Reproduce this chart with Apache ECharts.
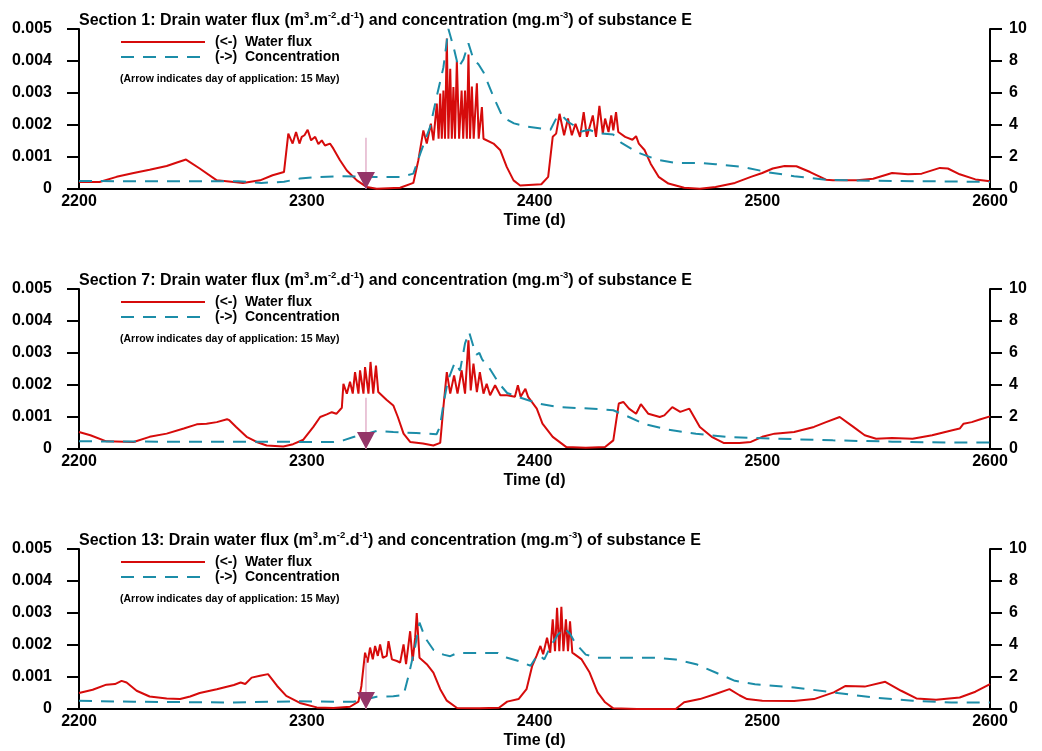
<!DOCTYPE html>
<html>
<head>
<meta charset="utf-8">
<script src="https://cdn.jsdelivr.net/npm/echarts@6/dist/echarts.min.js"></script>
<style>
  html, body { margin: 0; padding: 0; background: #fff; }
  #main { width: 1042px; height: 751px; }
</style>
</head>
<body>
<div id="main"></div>
<script>
// Drain outflow for three field sections: water flux (left axis, m3/m2/d)
// and substance E concentration (right axis, mg/m3), days 2200-2600.

const sectionNames = ['Section 1', 'Section 7', 'Section 13'];
const applicationDay = 2326;      // 15 May
const arrowTop = 0.0016;          // top of the application marker stem

const flux1 = [
  [2200,0.00022],[2209,0.00022],[2216.5,0.00038],[2224,0.0005],[2231,0.0006],[2238.5,0.00072],
  [2243,0.00083],[2247,0.00092],[2253,0.00064],[2260.5,0.00027],[2268,0.00022],[2272,0.00019],
  [2279.5,0.00027],[2285,0.00043],[2290,0.00053],[2291.9,0.00173],[2292.6,0.00178],[2293.8,0.00142],
  [2295.3,0.00178],[2296.8,0.00142],[2297.8,0.00163],[2299,0.00168],[2300.4,0.00185],[2301.9,0.00152],
  [2303.7,0.00163],[2305.1,0.0014],[2306.6,0.00152],[2308,0.00136],[2310.2,0.00142],[2311.7,0.00126],
  [2314.6,0.0009],[2317.6,0.00058],[2322,0.00027],[2326.4,0.00006],[2330.7,0.00001],[2341,0.00004],
  [2346.8,0.00019],[2349,0.0009],[2351.2,0.00183],[2352.7,0.00142],[2354.5,0.00204],[2355.6,0.00152],
  [2356.4,0.00157],[2357.1,0.00267],[2357.9,0.00157],[2358.6,0.00298],[2359.3,0.00157],[2360,0.00308],
  [2360.7,0.00157],[2361.5,0.0047],[2362.2,0.00157],[2363,0.00376],[2363.7,0.00157],[2364.4,0.00319],
  [2365.1,0.00157],[2365.9,0.004],[2366.9,0.00157],[2368,0.00308],[2368.7,0.00157],[2369.5,0.00308],
  [2370.3,0.00157],[2371,0.0042],[2371.7,0.00157],[2372.5,0.0032],[2373.3,0.00157],[2374.7,0.0033],
  [2375.5,0.00157],[2376.9,0.00256],[2377.6,0.00157],[2382,0.00142],[2385,0.00121],[2387.8,0.00069],
  [2390.8,0.00027],[2393.7,0.00011],[2403,0.00015],[2406,0.00038],[2408,0.00163],[2409.5,0.00173],
  [2411,0.00235],[2413,0.00168],[2414.7,0.0022],[2416.4,0.00168],[2418,0.00204],[2420,0.00163],
  [2421.6,0.0024],[2423,0.00163],[2425.6,0.0023],[2427,0.00163],[2428.5,0.0026],[2430,0.00173],
  [2431,0.0022],[2432.5,0.00178],[2433.7,0.0023],[2434.6,0.00183],[2435.8,0.0024],[2436.8,0.00178],
  [2439.8,0.00163],[2443,0.00154],[2444.6,0.00165],[2445.8,0.00142],[2448.4,0.00121],[2451,0.00079],
  [2454.5,0.00038],[2458.8,0.00017],[2465.7,0.00004],[2472.6,0.00001],[2479.5,0.00006],[2488,0.00019],
  [2495,0.00038],[2500,0.0005],[2504.6,0.00064],[2509.8,0.00072],[2515,0.00071],[2521,0.00053],
  [2528,0.00029],[2531,0.00027],[2541.7,0.00027],[2548.7,0.00032],[2557,0.0005],[2564,0.00046],
  [2570,0.00048],[2578,0.00066],[2581.5,0.00064],[2586.7,0.00046],[2593.6,0.0003],[2600,0.00024]
];

const conc1 = [
  [2200,0.5],[2230,0.48],[2270,0.48],[2280,0.38],[2290,0.45],[2297,0.65],[2305,0.75],[2315,0.8],
  [2330,0.75],[2341,0.75],[2346.8,0.96],[2349.8,2.2],[2354.2,3.9],[2357.1,5.8],[2360,7.6],[2362.2,10.0],
  [2364.4,8.9],[2366.6,7.6],[2368.8,8.1],[2371,9.1],[2373.2,8.1],[2375.4,7.8],[2377.6,7.3],[2382,5.76],
  [2386,4.5],[2391,4.1],[2396.5,3.9],[2407,3.7],[2409.5,4.4],[2412,4.6],[2414.7,4.2],[2417,4.0],
  [2420.7,3.6],[2424,3.7],[2427.7,3.5],[2434.6,3.4],[2438,2.9],[2445,2.3],[2453.6,1.84],[2462,1.63],
  [2472.6,1.63],[2479.5,1.55],[2491.6,1.38],[2502,1.06],[2514,0.8],[2528,0.58],[2540,0.54],[2557,0.5],
  [2574.6,0.48],[2600,0.44]
];

const flux2 = [
  [2200,0.00053],[2205,0.00043],[2212,0.00024],[2224,0.00022],[2231,0.00038],[2238.5,0.00048],
  [2246,0.00064],[2251.7,0.00077],[2256,0.00079],[2260.5,0.00084],[2265,0.00093],[2266,0.0009],
  [2269,0.00069],[2273.6,0.00038],[2278,0.00022],[2282.4,0.00011],[2289.7,0.00008],[2294,0.00015],
  [2298.5,0.00029],[2302.9,0.00069],[2305.9,0.001],[2308.8,0.00108],[2311,0.00115],[2313,0.0011],
  [2315.4,0.00129],[2316.1,0.00204],[2317.6,0.00173],[2319,0.0021],[2320.2,0.00173],[2321.2,0.0024],
  [2322.7,0.00173],[2323.4,0.00246],[2324.9,0.00173],[2325.6,0.00256],[2327.1,0.00173],[2328,0.00272],
  [2329.2,0.00173],[2330.4,0.00261],[2331.4,0.00178],[2335,0.00154],[2338,0.00136],[2340,0.001],
  [2342.5,0.00048],[2345.4,0.00022],[2351,0.00017],[2355.6,0.00011],[2358.6,0.00019],[2360,0.00131],
  [2361.5,0.0024],[2363,0.00173],[2364.7,0.0023],[2366.2,0.00173],[2368,0.00246],[2369.5,0.00173],
  [2371,0.0034],[2372,0.00183],[2373.2,0.00267],[2374.7,0.00178],[2376,0.0024],[2377.6,0.00173],
  [2379,0.00204],[2380.5,0.00168],[2382.7,0.00199],[2385,0.00168],[2388,0.00168],[2391.4,0.00163],
  [2392.7,0.00199],[2393.9,0.00163],[2396,0.00188],[2397.2,0.00163],[2401,0.00126],[2403.5,0.00079],
  [2408,0.00038],[2414,0.00006],[2422.5,0.00004],[2431,0.00006],[2434.6,0.00027],[2437,0.00142],
  [2439,0.00147],[2441.5,0.00126],[2444.6,0.0011],[2446.7,0.0014],[2450,0.0011],[2455,0.001],
  [2457,0.00105],[2460.5,0.00131],[2464,0.00116],[2468,0.00126],[2472.6,0.00069],[2477.8,0.00038],
  [2483,0.00019],[2490,0.00019],[2495,0.00022],[2500,0.00038],[2505.4,0.00048],[2514,0.00053],
  [2522.7,0.00069],[2528,0.00084],[2534,0.001],[2540,0.00069],[2545,0.00043],[2550,0.00032],
  [2557,0.00034],[2566,0.00032],[2574.6,0.00043],[2583,0.00058],[2586.7,0.00064],[2588.4,0.00079],
  [2592,0.00084],[2595.5,0.00092],[2600,0.00102]
];

const conc2 = [
  [2200,0.48],[2250,0.45],[2280,0.45],[2311.7,0.44],[2316,0.54],[2320.5,0.75],[2326.4,0.96],
  [2330.7,1.13],[2338,1.06],[2348,1.0],[2357,0.92],[2358.5,1.4],[2360,2.8],[2362,4.3],[2365,5.4],
  [2367.3,4.9],[2369.5,6.6],[2371.3,7.3],[2373.2,6.4],[2374.5,5.9],[2375.8,6.0],[2377,5.6],[2380,5.1],
  [2384.4,4.1],[2388,3.5],[2393,3.25],[2401.7,2.84],[2410,2.63],[2419,2.56],[2427.7,2.5],[2434.6,2.42],
  [2441.5,2.0],[2448.4,1.55],[2458.8,1.2],[2470.9,0.96],[2484.7,0.75],[2505.4,0.65],[2531,0.54],
  [2557,0.46],[2583,0.4],[2600,0.4]
];

const flux3 = [
  [2200,0.0005],[2206,0.0006],[2212,0.00076],[2215.8,0.00078],[2218.7,0.00088],[2220.9,0.00083],
  [2225.3,0.00057],[2231,0.00039],[2238.5,0.00033],[2244.4,0.00031],[2248.8,0.00039],[2253,0.0005],
  [2260.5,0.00062],[2268,0.00075],[2271,0.00083],[2273,0.00078],[2275.8,0.00098],[2279.5,0.00104],
  [2283,0.00109],[2287,0.00072],[2291,0.00041],[2297,0.00019],[2304.4,0.00005],[2311.7,0.00003],
  [2319,0.00007],[2322.7,0.00023],[2324,0.00072],[2325.6,0.00176],[2326.7,0.00145],[2327.8,0.00192],
  [2329,0.00155],[2330,0.00197],[2331.2,0.00166],[2332.2,0.00202],[2333.4,0.0016],[2335.1,0.00166],
  [2335.9,0.00212],[2337.4,0.00155],[2339.6,0.0015],[2341,0.00145],[2342.5,0.00202],[2343.6,0.0014],
  [2345.4,0.00243],[2346.5,0.0015],[2347.6,0.00223],[2348.3,0.003],[2349.5,0.0016],[2352.7,0.0014],
  [2355.6,0.00114],[2358.6,0.00062],[2361.5,0.00026],[2366,0.00003],[2375.8,0.00002],[2384.4,0.00004],
  [2388,0.00023],[2393,0.00031],[2396.5,0.00062],[2399,0.00135],[2400.9,0.00166],[2402.6,0.00197],
  [2403.8,0.00171],[2405.5,0.00223],[2406.9,0.00176],[2408,0.0028],[2409,0.00181],[2409.9,0.00316],
  [2410.9,0.00181],[2411.8,0.00319],[2412.7,0.00181],[2413.8,0.0028],[2414.7,0.00181],[2415.6,0.00274],
  [2416.6,0.00176],[2420.7,0.00155],[2424.2,0.00114],[2427.7,0.00052],[2431,0.00021],[2434.6,0.00002],
  [2445,0],[2462,0],[2465.7,0.00021],[2472.6,0.00031],[2479.5,0.00047],[2485.6,0.00062],[2490,0.00043],
  [2493.3,0.00031],[2500,0.00026],[2514,0.00025],[2522.7,0.00031],[2531.4,0.00052],[2536.6,0.00072],
  [2545,0.0007],[2554,0.00085],[2561,0.00057],[2567.7,0.00033],[2576.3,0.00029],[2586.7,0.00036],
  [2593.6,0.00054],[2600,0.00078]
];

const conc3 = [
  [2200,0.52],[2224,0.45],[2268,0.41],[2297,0.48],[2320.5,0.45],[2326.4,0.62],[2330.7,0.77],
  [2338,0.79],[2342.5,0.87],[2344.7,2.07],[2347.6,3.9],[2349.5,5.4],[2352,4.45],[2355.6,3.7],
  [2360,3.4],[2363,3.3],[2366,3.5],[2373,3.5],[2384,3.5],[2388,3.2],[2393,3.0],[2398.3,2.7],
  [2400.5,3.2],[2401.7,3.4],[2404.3,3.1],[2407,3.9],[2410,4.6],[2413,5.07],[2415.6,4.7],[2418,4.1],
  [2422.5,3.4],[2427.7,3.2],[2436,3.2],[2453.6,3.2],[2462,3.1],[2471,2.8],[2479.5,2.28],[2488,1.76],
  [2496.8,1.55],[2514,1.35],[2531.4,1.03],[2548.7,0.72],[2566,0.52],[2583,0.41],[2600,0.41]
];

const fluxSeries = [flux1, flux2, flux3];
const concSeries = [conc1, conc2, conc3];

const FONT = "'Liberation Sans', Arial, sans-serif";
const RED = '#d60b0b';
const TEAL = '#1c8da8';
const FLUX_NAME = '(<-)  Water flux';
const CONC_NAME = '(->)  Concentration';

const chart = echarts.init(document.getElementById('main'));

const grids = [], xAxes = [], yAxes = [], series = [], titles = [], legends = [], graphics = [];

sectionNames.forEach((name, i) => {
  const top = 29 + 260 * i;
  grids.push({ left: 79, right: 52, top: top, height: 160 });

  titles.push({
    text: '{b|' + name + ': Drain water flux (m}{s|3}{b|.m}{s|-2}{b|.d}{s|-1}{b|) and concentration (mg.m}{s|-3}{b|) of substance E}',
    left: 74, top: top - 24,
    textStyle: {
      rich: {
        b: { fontFamily: FONT, fontWeight: 'bold', fontSize: 16, color: '#000', lineHeight: 19, verticalAlign: 'bottom' },
        s: { fontFamily: FONT, fontWeight: 'bold', fontSize: 9.5, color: '#000', lineHeight: 19, verticalAlign: 'top' }
      }
    }
  });

  xAxes.push({
    type: 'value', gridIndex: i, min: 2200, max: 2600, interval: 100,
    axisLine: { onZero: false, lineStyle: { color: '#000', width: 2 } },
    axisTick: { show: false },
    splitLine: { show: false },
    axisLabel: {
      color: '#000', fontFamily: FONT, fontWeight: 'bold', fontSize: 16, margin: 5,
      formatter: v => String(v)
    },
    name: 'Time (d)', nameLocation: 'middle', nameGap: 24,
    nameTextStyle: { color: '#000', fontFamily: FONT, fontWeight: 'bold', fontSize: 16 }
  });

  yAxes.push({
    type: 'value', gridIndex: i, position: 'left', min: 0, max: 0.005, interval: 0.001,
    axisLine: { show: true, lineStyle: { color: '#000', width: 2 } },
    axisTick: { show: true, length: 12, lineStyle: { color: '#000', width: 2 } },
    splitLine: { show: false },
    axisLabel: {
      color: '#000', fontFamily: FONT, fontWeight: 'bold', fontSize: 16, margin: 27,
      formatter: v => (v === 0 ? '0' : v.toFixed(3))
    }
  });
  yAxes.push({
    type: 'value', gridIndex: i, position: 'right', min: 0, max: 10, interval: 2,
    axisLine: { show: true, lineStyle: { color: '#000', width: 2 } },
    axisTick: { show: true, length: 12, lineStyle: { color: '#000', width: 2 } },
    splitLine: { show: false },
    axisLabel: { color: '#000', fontFamily: FONT, fontWeight: 'bold', fontSize: 16, margin: 19 }
  });

  series.push({
    name: FLUX_NAME, type: 'line', xAxisIndex: i, yAxisIndex: 2 * i,
    data: fluxSeries[i], symbol: 'none', showSymbol: false,
    lineStyle: { color: RED, width: 2 }, itemStyle: { color: RED }, z: 3
  });
  series.push({
    name: CONC_NAME, type: 'line', xAxisIndex: i, yAxisIndex: 2 * i + 1,
    data: concSeries[i], symbol: 'none', showSymbol: false,
    lineStyle: { color: TEAL, width: 2, type: [13, 9] }, itemStyle: { color: TEAL }, z: 4
  });
  // application day marker: thin stem plus downward triangle on the time axis
  series.push({
    name: 'stem', type: 'line', xAxisIndex: i, yAxisIndex: 2 * i,
    data: [[applicationDay, arrowTop], [applicationDay, 0]], symbol: 'none',
    lineStyle: { color: '#e3b3cb', width: 1.5 }, silent: true, z: 5
  });
  series.push({
    name: 'application', type: 'scatter', xAxisIndex: i, yAxisIndex: 2 * i,
    data: [[applicationDay, 0]], symbol: 'triangle', symbolRotate: 180,
    symbolSize: [18, 17], symbolOffset: [0, -8.5], clip: false,
    itemStyle: { color: '#943568', opacity: 1 }, silent: true, z: 6
  });

  legends.push({
    data: [FLUX_NAME, CONC_NAME], left: 120, top: top + 6, orient: 'vertical',
    itemWidth: 84, itemHeight: 14, itemGap: 1, padding: 0, selectedMode: false,
    itemStyle: { opacity: 0 },
    textStyle: { color: '#000', fontFamily: FONT, fontWeight: 'bold', fontSize: 14, padding: [0, 0, 0, 5] }
  });

  graphics.push({
    type: 'text', left: 120, top: top + 45,
    style: {
      text: '(Arrow indicates day of application: 15 May)',
      fill: '#000', font: 'bold 10.5px ' + FONT
    }
  });
});

chart.setOption({
  animation: false,
  backgroundColor: '#fff',
  title: titles,
  legend: legends,
  grid: grids,
  xAxis: xAxes,
  yAxis: yAxes,
  series: series,
  graphic: graphics
});
</script>
</body>
</html>
